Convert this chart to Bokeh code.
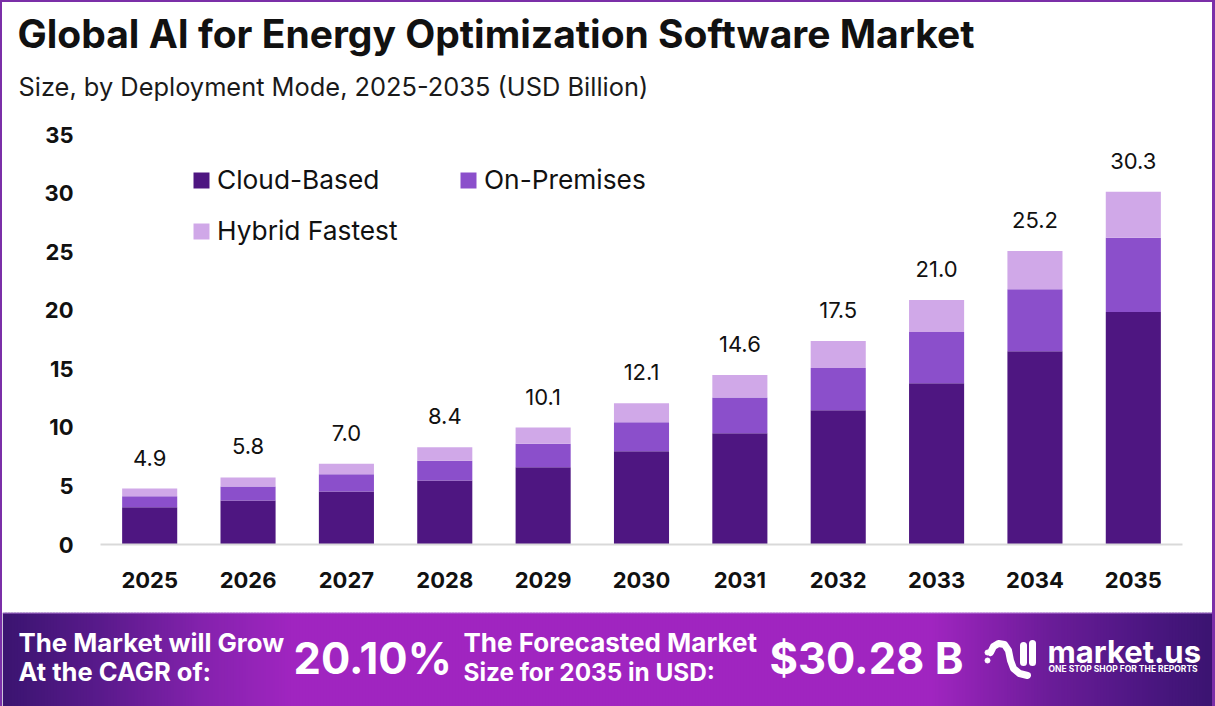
from bokeh.core.properties import value
from bokeh.embed import file_html
from bokeh.resources import INLINE
from bokeh.plotting import figure
from bokeh.layouts import column
from bokeh.models import (ColumnDataSource, FactorRange, Range1d, Label, LabelSet, Legend, LegendItem,
                          FixedTicker)

years = ["2025", "2026", "2027", "2028", "2029", "2030", "2031", "2032", "2033", "2034", "2035"]
cloud_based = [3.17, 3.76, 4.53, 5.47, 6.59, 7.96, 9.50, 11.46, 13.77, 16.50, 19.85]
on_premises = [0.94, 1.20, 1.46, 1.69, 2.02, 2.48, 3.05, 3.60, 4.36, 5.30, 6.33]
hybrid_fastest = [0.66, 0.77, 0.91, 1.14, 1.37, 1.62, 1.91, 2.31, 2.74, 3.26, 3.93]
total_labels = ["4.9", "5.8", "7.0", "8.4", "10.1", "12.1", "14.6", "17.5", "21.0", "25.2", "30.3"]
y_ticks = [0, 5, 10, 15, 20, 25, 30, 35]

series_names = ["Cloud-Based", "On-Premises", "Hybrid Fastest"]
series_colors = ["#4e1681", "#8b4fcb", "#d0a8e8"]
INK = "#111111"
HEAD = "Inter"

W, H_HEAD, H_TOP, H_FOOT = 1210, 100, 510, 94

src = ColumnDataSource(dict(
    year=years, cloud=cloud_based, prem=on_premises, hybrid=hybrid_fastest,
    top=[a + b + c for a, b, c in zip(cloud_based, on_premises, hybrid_fastest)],
    label=total_labels,
))

# header band, in the picture's own pixel coordinates
h = figure(x_range=Range1d(2, 2 + W), y_range=Range1d(2 + H_HEAD, 2), width=W, height=H_HEAD,
           output_backend="svg", toolbar_location=None, min_border=0, x_axis_type=None, y_axis_type=None,
           frame_align=False)
h.outline_line_color = None
h.grid.visible = False
h.add_layout(Label(x=17, y=33, text="Global AI for Energy Optimization Software Market", text_font=HEAD,
                   text_font_size="39px", text_font_style="bold", text_color=INK, text_baseline="middle"))
h.add_layout(Label(x=18, y=86, text="Size, by Deployment Mode, 2025-2035 (USD Billion)", text_font=HEAD,
                   text_font_size="25.4px", text_color="#1a1a1a", text_baseline="middle"))

p = figure(x_range=FactorRange(factors=years, range_padding=0), y_range=Range1d(0, 35),
           width=W, height=H_TOP, output_backend="svg", toolbar_location=None, frame_align=False,
           min_border_left=98, min_border_right=30, min_border_top=32, min_border_bottom=68)
p.outline_line_color = None
p.grid.visible = False
p.background_fill_color = "white"
p.border_fill_color = "white"

rs = p.vbar_stack(["cloud", "prem", "hybrid"], x="year", width=0.56, source=src,
                  color=series_colors, line_color=None)

p.xaxis.axis_line_color = "#d9d9d9"
p.xaxis.axis_line_width = 2
p.xaxis.major_tick_line_color = None
p.xaxis.minor_tick_line_color = None
p.xaxis.major_label_text_font = HEAD
p.xaxis.major_label_text_font_style = "bold"
p.xaxis.major_label_text_font_size = "22px"
p.xaxis.major_label_text_color = INK
p.xaxis.major_label_standoff = 21

p.yaxis.ticker = FixedTicker(ticks=y_ticks)
p.yaxis.axis_line_color = None
p.yaxis.major_tick_line_color = None
p.yaxis.minor_tick_line_color = None
p.yaxis.major_label_text_font = HEAD
p.yaxis.major_label_text_font_style = "bold"
p.yaxis.major_label_text_font_size = "22px"
p.yaxis.major_label_text_color = INK
p.yaxis.major_label_standoff = 21

p.add_layout(LabelSet(x="year", y="top", text="label", source=src, text_align="center",
                      text_baseline="middle", y_offset=31, text_font=value(HEAD),
                      text_font_size=value("22px"), text_color=INK))

legend = Legend(items=[LegendItem(label=n, renderers=[r]) for n, r in zip(series_names, rs)],
                orientation="horizontal", ncols=2, location=(91, 288), spacing=0, padding=0, margin=0,
                glyph_width=20, glyph_height=20, label_standoff=6, label_width=241, label_height=51,
                border_line_color=None, background_fill_alpha=0,
                label_text_font=HEAD, label_text_font_size="26.3px", label_text_color=INK)
p.add_layout(legend)

# footer banner, in the picture's own pixel coordinates
f = figure(x_range=Range1d(2, 2 + W), y_range=Range1d(612 + H_FOOT, 612), width=W, height=H_FOOT,
           output_backend="svg", toolbar_location=None, min_border=0, x_axis_type=None, y_axis_type=None,
           frame_align=False)
f.outline_line_color = None
f.grid.visible = False

stops = [(0, (58, 20, 112)), (100, (90, 26, 140)), (200, (132, 34, 173)), (290, (160, 37, 192)),
         (930, (160, 37, 192)), (1050, (106, 28, 152)), (1150, (74, 22, 128)), (1215, (58, 20, 112))]
def grad(x):
    for (x0, c0), (x1, c1) in zip(stops, stops[1:]):
        if x0 <= x <= x1:
            t = (x - x0) / (x1 - x0)
            return "#%02x%02x%02x" % tuple(round(a + (b - a) * t) for a, b in zip(c0, c1))
    return "#3a1470"
xs = list(range(2, 1212, 3))
f.quad(left=xs, right=[x + 4 for x in xs], top=612, bottom=706, color=[grad(x) for x in xs], line_color=None)
f.quad(left=2, right=1212, top=612, bottom=613, color="#b57fd9", line_color=None)

def foot(text, x, y, size, font=HEAD):
    f.add_layout(Label(x=x, y=y, text=text, text_font=font, text_font_size=size, text_color="white",
                       text_font_style="bold", text_baseline="middle"))

foot("The Market will Grow", 18, 642, "25.8px")
foot("At the CAGR of:", 18, 671, "25.5px")
foot("20.10%", 293, 657, "43.5px")
foot("The Forecasted Market", 463, 642, "26px")
foot("Size for 2035 in USD:", 463, 671, "24.3px")
foot("$30.28 B", 769, 657, "43.5px")
foot("market.us", 1047, 651, "31px")
foot("ONE STOP SHOP FOR THE REPORTS", 1048, 668, "8.5px")

# logo mark
f.multi_line(xs=[[990, 993, 998, 1004, 1008, 1010, 1013, 1019, 1027],
                 [1023, 1023], [1032, 1032]],
             ys=[[652, 646, 643, 644, 650, 660, 668, 673, 675],
                 [645, 662], [643, 662]],
             line_color="white", line_width=7, line_cap="round", line_join="round")
f.scatter(x=[987, 987], y=[652, 660], size=5, color="white")

frame_color = "#7b2fa8"
page = column(h, p, f, spacing=0, styles={"border-top": f"2px solid {frame_color}",
                                          "border-left": f"2px solid {frame_color}",
                                          "border-right": f"3px solid {frame_color}"})
open("out.html", "w").write(file_html(page, INLINE))
